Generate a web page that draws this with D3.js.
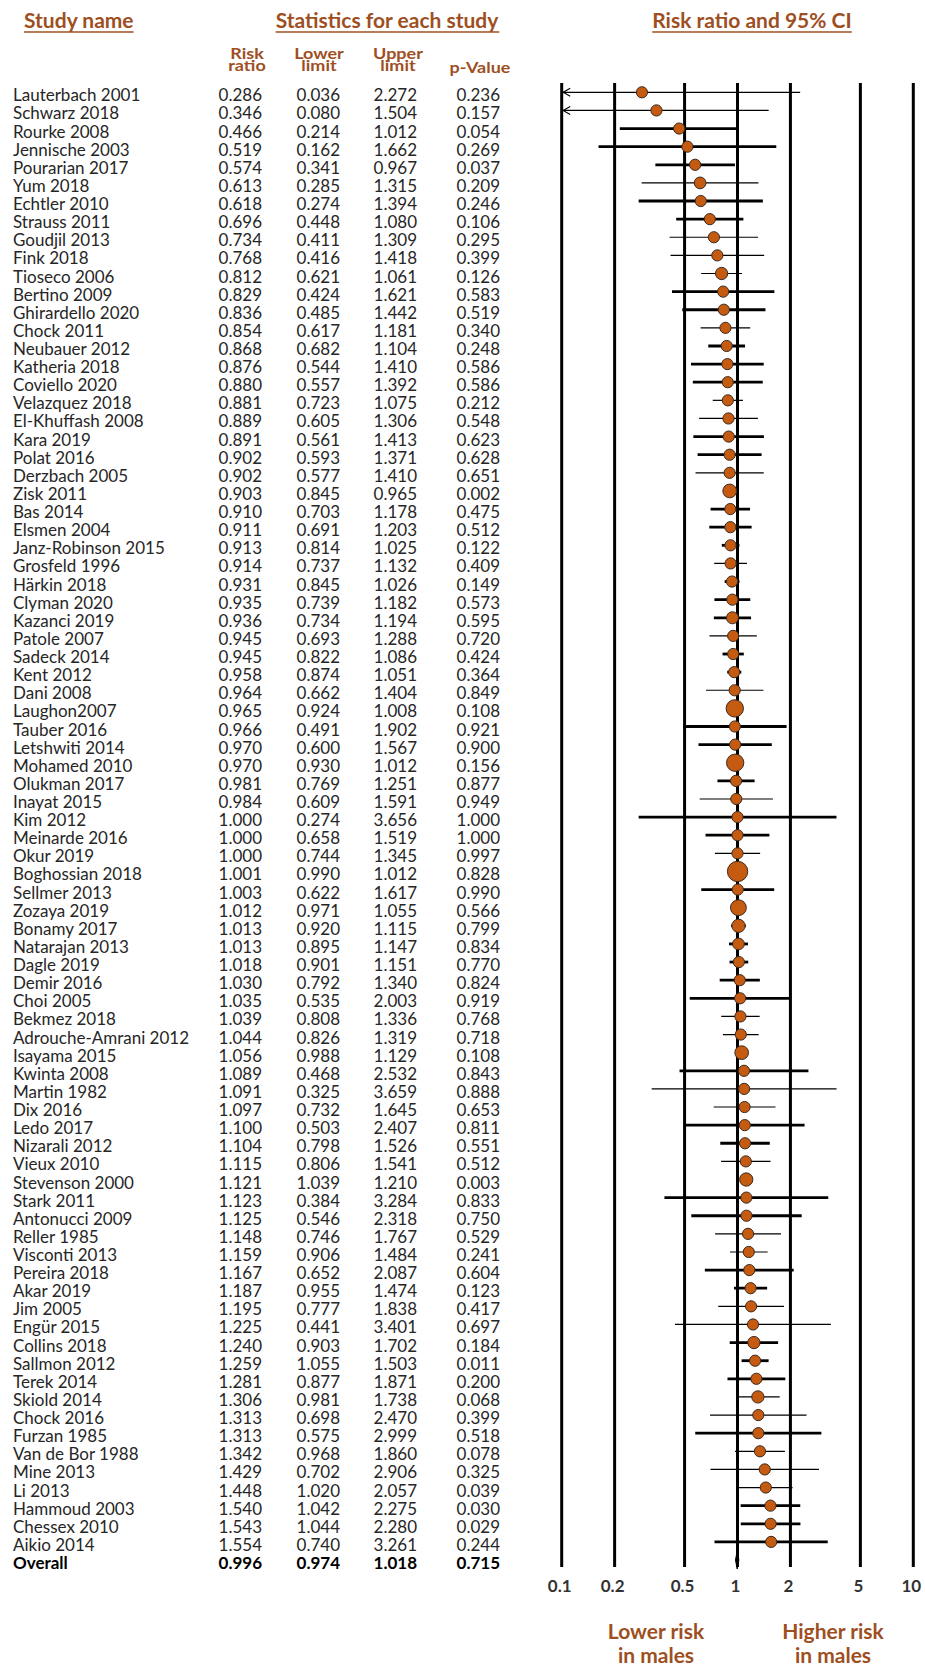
<!DOCTYPE html>
<html>
<head>
<meta charset="utf-8">
<script src="https://cdn.jsdelivr.net/npm/d3@7"></script>
<style>
body { margin: 0; background: #fff; }
svg { display: block; font-family: Lato, "Open Sans", sans-serif; }
</style>
</head>
<body>
<script>
var studyNames = [
    "Lauterbach 2001", "Schwarz 2018", "Rourke 2008", "Jennische 2003", "Pourarian 2017",
    "Yum 2018", "Echtler 2010", "Strauss 2011", "Goudjil 2013", "Fink 2018",
    "Tioseco 2006", "Bertino 2009", "Ghirardello 2020", "Chock 2011", "Neubauer 2012",
    "Katheria 2018", "Coviello 2020", "Velazquez 2018", "El-Khuffash 2008", "Kara 2019",
    "Polat 2016", "Derzbach 2005", "Zisk 2011", "Bas 2014", "Elsmen 2004",
    "Janz-Robinson 2015", "Grosfeld 1996", "Härkin 2018", "Clyman 2020", "Kazanci 2019",
    "Patole 2007", "Sadeck 2014", "Kent 2012", "Dani 2008", "Laughon2007",
    "Tauber 2016", "Letshwiti 2014", "Mohamed 2010", "Olukman 2017", "Inayat 2015",
    "Kim 2012", "Meinarde 2016", "Okur 2019", "Boghossian 2018", "Sellmer 2013",
    "Zozaya 2019", "Bonamy 2017", "Natarajan 2013", "Dagle 2019", "Demir 2016",
    "Choi 2005", "Bekmez 2018", "Adrouche-Amrani 2012", "Isayama 2015", "Kwinta 2008",
    "Martin 1982", "Dix 2016", "Ledo 2017", "Nizarali 2012", "Vieux 2010",
    "Stevenson 2000", "Stark 2011", "Antonucci 2009", "Reller 1985", "Visconti 2013",
    "Pereira 2018", "Akar 2019", "Jim 2005", "Engür 2015", "Collins 2018",
    "Sallmon 2012", "Terek 2014", "Skiold 2014", "Chock 2016", "Furzan 1985",
    "Van de Bor 1988", "Mine 2013", "Li 2013", "Hammoud 2003", "Chessex 2010",
    "Aikio 2014"
];
var riskRatio = [
    0.286, 0.346, 0.466, 0.519, 0.574, 0.613, 0.618, 0.696, 0.734, 0.768,
    0.812, 0.829, 0.836, 0.854, 0.868, 0.876, 0.880, 0.881, 0.889, 0.891,
    0.902, 0.902, 0.903, 0.910, 0.911, 0.913, 0.914, 0.931, 0.935, 0.936,
    0.945, 0.945, 0.958, 0.964, 0.965, 0.966, 0.970, 0.970, 0.981, 0.984,
    1.000, 1.000, 1.000, 1.001, 1.003, 1.012, 1.013, 1.013, 1.018, 1.030,
    1.035, 1.039, 1.044, 1.056, 1.089, 1.091, 1.097, 1.100, 1.104, 1.115,
    1.121, 1.123, 1.125, 1.148, 1.159, 1.167, 1.187, 1.195, 1.225, 1.240,
    1.259, 1.281, 1.306, 1.313, 1.313, 1.342, 1.429, 1.448, 1.540, 1.543,
    1.554
];
var lowerLimit = [
    0.036, 0.080, 0.214, 0.162, 0.341, 0.285, 0.274, 0.448, 0.411, 0.416,
    0.621, 0.424, 0.485, 0.617, 0.682, 0.544, 0.557, 0.723, 0.605, 0.561,
    0.593, 0.577, 0.845, 0.703, 0.691, 0.814, 0.737, 0.845, 0.739, 0.734,
    0.693, 0.822, 0.874, 0.662, 0.924, 0.491, 0.600, 0.930, 0.769, 0.609,
    0.274, 0.658, 0.744, 0.990, 0.622, 0.971, 0.920, 0.895, 0.901, 0.792,
    0.535, 0.808, 0.826, 0.988, 0.468, 0.325, 0.732, 0.503, 0.798, 0.806,
    1.039, 0.384, 0.546, 0.746, 0.906, 0.652, 0.955, 0.777, 0.441, 0.903,
    1.055, 0.877, 0.981, 0.698, 0.575, 0.968, 0.702, 1.020, 1.042, 1.044,
    0.740
];
var upperLimit = [
    2.272, 1.504, 1.012, 1.662, 0.967, 1.315, 1.394, 1.080, 1.309, 1.418,
    1.061, 1.621, 1.442, 1.181, 1.104, 1.410, 1.392, 1.075, 1.306, 1.413,
    1.371, 1.410, 0.965, 1.178, 1.203, 1.025, 1.132, 1.026, 1.182, 1.194,
    1.288, 1.086, 1.051, 1.404, 1.008, 1.902, 1.567, 1.012, 1.251, 1.591,
    3.656, 1.519, 1.345, 1.012, 1.617, 1.055, 1.115, 1.147, 1.151, 1.340,
    2.003, 1.336, 1.319, 1.129, 2.532, 3.659, 1.645, 2.407, 1.526, 1.541,
    1.210, 3.284, 2.318, 1.767, 1.484, 2.087, 1.474, 1.838, 3.401, 1.702,
    1.503, 1.871, 1.738, 2.470, 2.999, 1.860, 2.906, 2.057, 2.275, 2.280,
    3.261
];
var pValue = [
    0.236, 0.157, 0.054, 0.269, 0.037, 0.209, 0.246, 0.106, 0.295, 0.399,
    0.126, 0.583, 0.519, 0.340, 0.248, 0.586, 0.586, 0.212, 0.548, 0.623,
    0.628, 0.651, 0.002, 0.475, 0.512, 0.122, 0.409, 0.149, 0.573, 0.595,
    0.720, 0.424, 0.364, 0.849, 0.108, 0.921, 0.900, 0.156, 0.877, 0.949,
    1.000, 1.000, 0.997, 0.828, 0.990, 0.566, 0.799, 0.834, 0.770, 0.824,
    0.919, 0.768, 0.718, 0.108, 0.843, 0.888, 0.653, 0.811, 0.551, 0.512,
    0.003, 0.833, 0.750, 0.529, 0.241, 0.604, 0.123, 0.417, 0.697, 0.184,
    0.011, 0.200, 0.068, 0.399, 0.518, 0.078, 0.325, 0.039, 0.030, 0.029,
    0.244
];
// relative marker weight (1 = ordinary dot)
var markerWeight = [
    1, 1, 1, 1, 1, 1.1, 1, 1, 1, 1,
    1.2, 1, 1, 1, 1, 1, 1, 1, 1, 1,
    1, 1, 1.5, 1, 1, 1, 1, 1, 1, 1.15,
    1, 1, 1, 1, 2.4, 1, 1, 2.4, 1, 1,
    1, 1, 1, 3.3, 1, 2, 1.4, 1.1, 1, 1,
    1, 1, 1, 1.5, 1, 1, 1, 1, 1, 1,
    1.4, 1, 1, 1, 1, 1, 1, 1, 1, 1.2,
    1, 1, 1.2, 1, 1, 1, 1, 1, 1, 1,
    1
];
// 1 = CI drawn as a heavy line, 0 = light line
var ciHeavy = [
    0, 0, 1, 1, 1, 0, 1, 1, 0, 0,
    0, 1, 1, 0, 1, 1, 1, 0, 0, 1,
    1, 0, 1, 1, 1, 1, 0, 1, 1, 1,
    0, 1, 1, 0, 1, 1, 1, 1, 1, 0,
    1, 1, 0, 1, 1, 1, 1, 1, 1, 1,
    1, 0, 0, 1, 1, 0, 0, 1, 1, 0,
    1, 1, 1, 0, 0, 1, 1, 0, 0, 1,
    1, 1, 0, 0, 1, 0, 0, 0, 1, 1,
    1
];
var overall = { name: "Overall", rr: 0.996, lo: 0.974, hi: 1.018, p: 0.715 };
var tickValues = [0.1, 0.2, 0.5, 1, 2, 5, 10];
var tickLabels = ["0.1", "0.2", "0.5", "1", "2", "5", "10"];

var brown = "#9e4f1f";
var dotFill = "#c55a11";
var textCol = "#262626";

drawForest();

function drawForest() {
    var W = 925, H = 1668;
    var n = studyNames.length;

    var svg = d3.select("body").append("svg")
        .attr("width", W)
        .attr("height", H);

    var x = d3.scaleLog().domain([0.1, 10]).range([561.7, 913.3]);
    var y = d3.scaleLinear().domain([0, n]).range([92.3, 92.3 + n * 18.12]);
    var r = d3.scaleSqrt().domain([0, 1]).range([0, 5.6]);
    var fmt = d3.format(".3f");

    // column headers
    function header(txt, cx, anchor) {
        var t = svg.append("text")
            .attr("x", cx)
            .attr("y", 28)
            .attr("text-anchor", anchor)
            .attr("font-size", 21)
            .attr("font-weight", "bold")
            .attr("fill", brown)
            .text(txt);
        var b = t.node().getBBox();
        svg.append("line")
            .attr("x1", b.x).attr("x2", b.x + b.width)
            .attr("y1", 32).attr("y2", 32)
            .attr("stroke", brown)
            .attr("stroke-width", 1.5);
    }
    header("Study name", 24, "start");
    header("Statistics for each study", 387, "middle");
    header("Risk ratio and 95% CI", 752, "middle");

    // squashed two-line sub headers
    var sub = [
        { lines: ["Risk", "ratio"], cx: 247 },
        { lines: ["Lower", "limit"], cx: 319 },
        { lines: ["Upper", "limit"], cx: 398 },
        { lines: ["p-Value"], cx: 480 }
    ];
    sub.forEach(function (s) {
        var base = s.lines.length == 2 ? 58.5 : 72.5;
        s.lines.forEach(function (l, i) {
            var by = base + i * 12.5;
            svg.append("text")
                .attr("transform", "translate(" + s.cx + "," + by + ") scale(1,0.8)")
                .attr("text-anchor", "middle")
                .attr("font-size", 18)
                .attr("font-weight", "bold")
                .attr("fill", brown)
                .text(l);
        });
    });

    // table rows
    var colEnds = [262, 340, 417, 500];
    var rows = studyNames.map(function (s, i) {
        return { name: s, rr: riskRatio[i], lo: lowerLimit[i], hi: upperLimit[i], p: pValue[i],
                 w: markerWeight[i], heavy: ciHeavy[i], i: i };
    });

    function rowText(d, bold) {
        var g = svg.append("g")
            .attr("font-size", 17)
            .attr("font-weight", bold ? "bold" : "normal")
            .attr("fill", bold ? "#000" : textCol);
        var by = y(d.i) + 9;
        g.append("text").attr("x", 13).attr("y", by).text(d.name);
        [d.rr, d.lo, d.hi, d.p].forEach(function (v, j) {
            g.append("text")
                .attr("x", colEnds[j])
                .attr("y", by)
                .attr("text-anchor", "end")
                .text(fmt(v));
        });
    }
    rows.forEach(function (d) { rowText(d, false); });
    overall.i = n;
    rowText(overall, true);

    // vertical reference lines
    svg.selectAll("line.grid")
        .data(tickValues)
        .enter().append("line")
        .attr("class", "grid")
        .attr("x1", function (d) { return x(d); })
        .attr("x2", function (d) { return x(d); })
        .attr("y1", 83)
        .attr("y2", 1567)
        .attr("stroke", "#000")
        .attr("stroke-width", 3);

    // tick labels
    svg.selectAll("text.tick")
        .data(tickValues)
        .enter().append("text")
        .attr("class", "tick")
        .attr("x", function (d) { return x(d) - 2; })
        .attr("y", 1592)
        .attr("text-anchor", "middle")
        .attr("font-size", 17)
        .attr("font-weight", "bold")
        .attr("fill", "#333")
        .text(function (d, i) { return tickLabels[i]; });

    // confidence intervals
    var xmin = x.domain()[0];
    svg.selectAll("line.ci")
        .data(rows)
        .enter().append("line")
        .attr("class", "ci")
        .attr("x1", function (d) { return x(Math.max(d.lo, xmin)); })
        .attr("x2", function (d) { return x(d.hi); })
        .attr("y1", function (d) { return y(d.i); })
        .attr("y2", function (d) { return y(d.i); })
        .attr("stroke", "#000")
        .attr("stroke-width", function (d) { return d.heavy ? 2.8 : 1.2; });

    // arrows where the lower limit runs off the scale
    rows.filter(function (d) { return d.lo < xmin; }).forEach(function (d) {
        var ax = x(xmin) + 1.5, ay = y(d.i);
        svg.append("path")
            .attr("d", "M" + (ax + 7) + "," + (ay - 4) + "L" + ax + "," + ay + "L" + (ax + 7) + "," + (ay + 4))
            .attr("fill", "none")
            .attr("stroke", "#000")
            .attr("stroke-width", 1.1);
    });

    // study markers
    svg.selectAll("circle.study")
        .data(rows)
        .enter().append("circle")
        .attr("class", "study")
        .attr("cx", function (d) { return x(d.rr); })
        .attr("cy", function (d) { return y(d.i); })
        .attr("r", function (d) { return r(d.w); })
        .attr("fill", dotFill)
        .attr("stroke", "#3a2a20")
        .attr("stroke-width", 1);

    // overall diamond
    var oy = y(n);
    svg.append("path")
        .attr("d", "M" + x(overall.lo) + "," + oy +
                   "L" + x(overall.rr) + "," + (oy - 9) +
                   "L" + x(overall.hi) + "," + oy +
                   "L" + x(overall.rr) + "," + (oy + 9) + "Z")
        .attr("fill", "#000")
        .attr("stroke", "#000")
        .attr("stroke-width", 1);

    // direction labels
    function favour(lines, cx) {
        lines.forEach(function (l, i) {
            svg.append("text")
                .attr("x", cx)
                .attr("y", 1639 + i * 24)
                .attr("text-anchor", "middle")
                .attr("font-size", 21)
                .attr("font-weight", "bold")
                .attr("fill", brown)
                .text(l);
        });
    }
    favour(["Lower risk", "in males"], 656);
    favour(["Higher risk", "in males"], 833);
}
</script>
</body>
</html>
